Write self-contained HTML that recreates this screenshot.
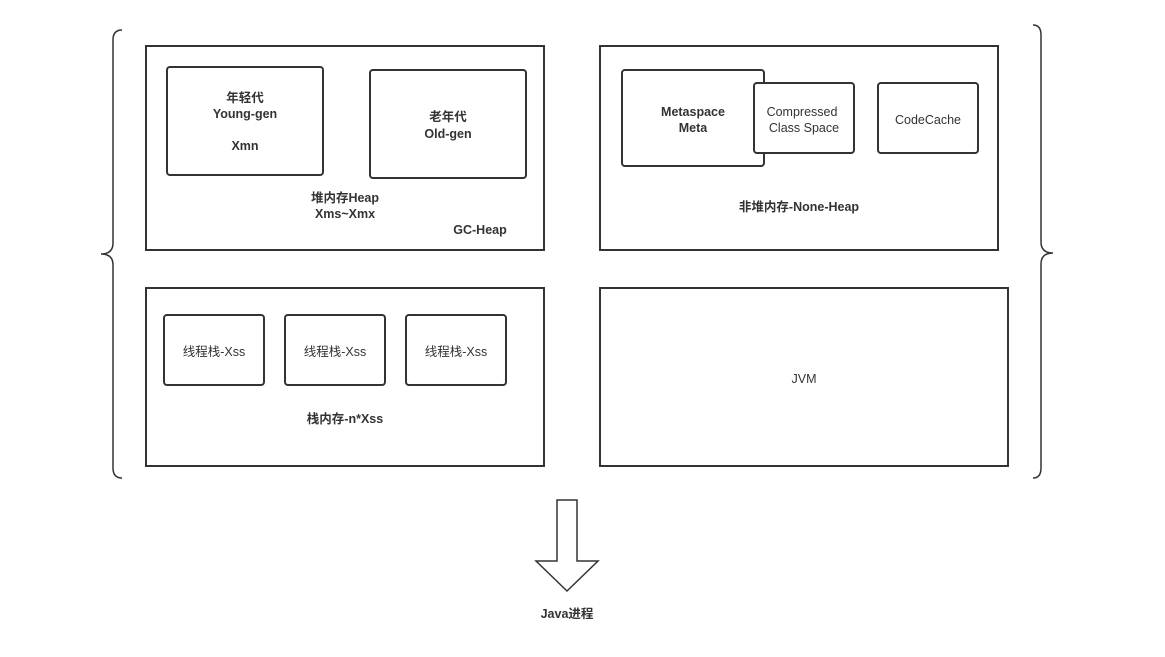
<!DOCTYPE html>
<html><head><meta charset="utf-8"><style>
html,body{margin:0;padding:0;background:#fff;}
svg{display:block;}
text{font-family:"Liberation Sans","Noto Sans CJK SC",sans-serif;fill:#333;font-size:12.5px;text-anchor:middle;}
.b{font-weight:bold;}
</style></head><body>
<svg width="1165" height="657" viewBox="0 0 1165 657" xmlns="http://www.w3.org/2000/svg">
<g fill="none" stroke="#333" stroke-width="2">
<path d="M122,30 Q113,30 113,40 L113,243 Q113,254 101,254 Q113,254 113,265 L113,468 Q113,478 122,478" stroke-width="1.5"/>
<path d="M1033,25 Q1041,25 1041,35 L1041,242 Q1041,253 1053,253 Q1041,253 1041,264 L1041,468 Q1041,478 1033,478" stroke-width="1.5"/>
<rect x="146" y="46" width="398" height="204"/>
<rect x="167" y="67" width="156" height="108" rx="3"/>
<rect x="370" y="70" width="156" height="108" rx="3"/>
<rect x="600" y="46" width="398" height="204"/>
<rect x="622" y="70" width="142" height="96" rx="3"/>
<rect x="754" y="83" width="100" height="70" rx="3" fill="#fff"/>
<rect x="878" y="83" width="100" height="70" rx="3"/>
<rect x="146" y="288" width="398" height="178"/>
<rect x="164" y="315" width="100" height="70" rx="3"/>
<rect x="285" y="315" width="100" height="70" rx="3"/>
<rect x="406" y="315" width="100" height="70" rx="3"/>
<rect x="600" y="288" width="408" height="178"/>
<path d="M557,500 L577,500 L577,561 L598,561 L567,591 L536,561 L557,561 Z" stroke-width="1.5"/>
</g>
<text class="b" x="245" y="102">年轻代</text>
<text class="b" x="245" y="118">Young-gen</text>
<text class="b" x="245" y="150">Xmn</text>
<text class="b" x="448" y="121">老年代</text>
<text class="b" x="448" y="138">Old-gen</text>
<text class="b" x="345" y="202">堆内存Heap</text>
<text class="b" x="345" y="218">Xms~Xmx</text>
<text class="b" x="480" y="234">GC-Heap</text>
<text class="b" x="693" y="116">Metaspace</text>
<text class="b" x="693" y="132">Meta</text>
<text x="802" y="116">Compressed</text>
<text x="804" y="132">Class Space</text>
<text x="928" y="124">CodeCache</text>
<text class="b" x="799" y="211">非堆内存-None-Heap</text>
<text x="214" y="356">线程栈-Xss</text>
<text x="335" y="356">线程栈-Xss</text>
<text x="456" y="356">线程栈-Xss</text>
<text class="b" x="345" y="423">栈内存-n*Xss</text>
<text x="804" y="383">JVM</text>
<text class="b" x="567" y="618">Java进程</text>
</svg>
</body></html>
